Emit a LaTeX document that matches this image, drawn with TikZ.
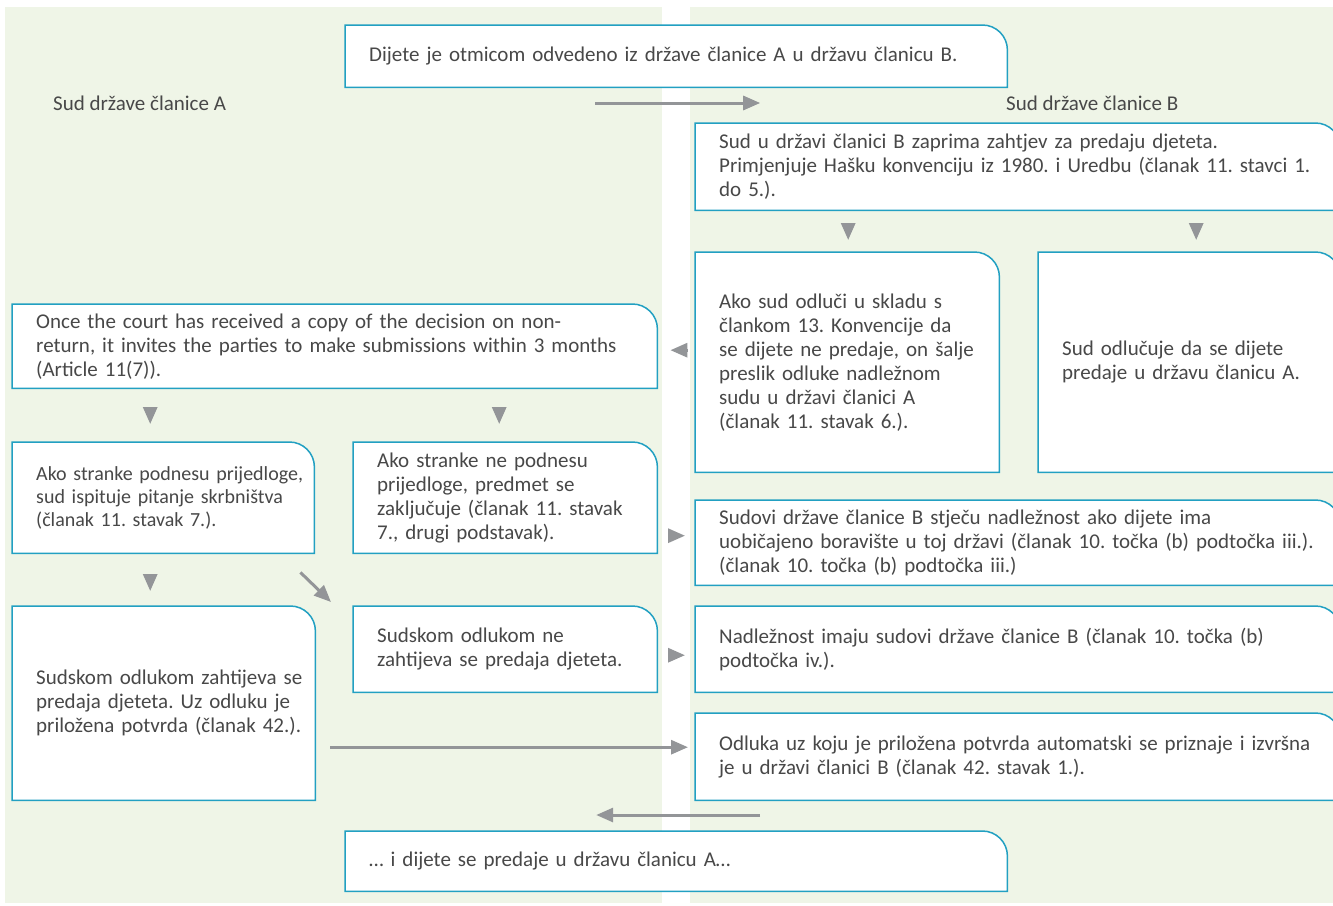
\documentclass[tikz,border=0pt]{standalone}
\usepackage{fontspec}
\setmainfont{Carlito}
\usetikzlibrary{arrows.meta,backgrounds}
\frenchspacing

\definecolor{panelgreen}{RGB}{239,245,231}
\definecolor{frameblue}{RGB}{34,160,194}
\definecolor{arrowgray}{RGB}{147,149,152}
\definecolor{textgray}{RGB}{72,72,72}

\newcommand\bodyfont{\fontsize{21}{24}\selectfont}
% frame round a text node: 24pt pad on the left, 2pt on the right
\newcommand\frameit[1]{%
  \draw[frame] ([xshift=-24pt]#1.south west) -- ([xshift=-24pt]#1.north west) -- ([xshift=-23pt]#1.north east)
    arc[start angle=90, end angle=0, radius=25pt] -- ([xshift=2pt]#1.south east) -- cycle;}

\tikzset{
  box/.style={anchor=north west, inner sep=0pt, align=left, text width=#1,
    font=\bodyfont, text=textgray},
  frame/.style={draw=frameblue, fill=white, line width=1.5pt},
  lab/.style={anchor=west, inner sep=0pt, font=\bodyfont, text=textgray},
  arr/.style={draw=arrowgray, line width=3pt, -{Triangle[length=17pt,width=14pt]}},
  tip/.style={draw=arrowgray, line width=3pt, -{Triangle[length=17pt,width=14pt]}}
}

\begin{document}
\begin{tikzpicture}[x=1pt, y=1pt]
    \useasboundingbox (0,0) rectangle (1333,-905);
    \begin{scope}[on background layer]
        \fill[panelgreen] (5,-7) rectangle (662,-903);
        \fill[panelgreen] (690,-7) rectangle (1333,-903);
    \end{scope}

    % top and bottom
    \node[box=636pt, minimum height=62pt] (Top) at (369,-25) {Dijete je otmicom odvedeno iz države članice A u državu članicu B.};
    \node[box=636pt, minimum height=60pt] (Bot) at (369,-831) {… i dijete se predaje u državu članicu A…};
    \node[lab] (labA) at (53,-103) {Sud države članice A};
    \node[lab] (labB) at (1006,-103) {Sud države članice B};

    % member state B
    \node[box=619pt, minimum height=87pt] (B1) at (719,-123) {Sud u državi članici B zaprima zahtjev za predaju djeteta.\\Primjenjuje Hašku konvenciju iz 1980. i Uredbu (članak 11. stavci 1.\\do 5.).};
    \node[box=278pt, minimum height=220pt] (B2) at (719,-252) {Ako sud odluči u skladu s\\člankom 13. Konvencije da\\se dijete ne predaje, on šalje\\preslik odluke nadležnom\\sudu u državi članici A\\(članak 11. stavak 6.).};
    \node[box=276pt, minimum height=220pt] (B3) at (1062,-252) {Sud odlučuje da se dijete\\predaje u državu članicu A.};
    \node[box=619pt, minimum height=85pt] (B4) at (719,-500) {Sudovi države članice B stječu nadležnost ako dijete ima\\uobičajeno boravište u toj državi (članak 10. točka (b) podtočka iii.).\\(članak 10. točka (b) podtočka iii.)};
    \node[box=619pt, minimum height=86pt] (B5) at (719,-606) {Nadležnost imaju sudovi države članice B (članak 10. točka (b)\\podtočka iv.).};
    \node[box=619pt, minimum height=87pt] (B6) at (719,-713) {Odluka uz koju je priložena potvrda automatski se priznaje i izvršna\\je u državi članici B (članak 42. stavak 1.).};

    % member state A
    \node[box=619pt, minimum height=84pt] (A1) at (36,-304) {Once the court has received a copy of the decision on non-\\return, it invites the parties to make submissions within 3 months\\(Article 11(7)).};
    \node[box=276pt, minimum height=111pt, font=\fontsize{20}{23}\selectfont] (A2) at (36,-442) {\mbox{Ako stranke podnesu prijedloge,}\\sud ispituje pitanje skrbništva\\(članak 11. stavak 7.).};
    \node[box=278pt, minimum height=111pt] (A3) at (377,-442) {Ako stranke ne podnesu\\prijedloge, predmet se\\zaključuje (članak 11. stavak\\7., drugi podstavak).};
    \node[box=277pt, minimum height=194pt] (A4) at (36,-606) {Sudskom odlukom zahtijeva se\\predaja djeteta. Uz odluku je\\priložena potvrda (članak 42.).};
    \node[box=278pt, minimum height=86pt] (A5) at (377,-606) {Sudskom odlukom ne\\zahtijeva se predaja djeteta.};

    \begin{scope}[on background layer]
        \foreach \n in {Top,Bot,B1,B2,B3,B4,B5,B6,A1,A2,A3,A4,A5}
            \frameit{\n};
    \end{scope}

    % connectors
    \draw[arr] ([xshift=-92pt]Top.south |- labA) -- ([xshift=73pt]Top.south |- labA);
    \draw[tip, shorten <=13pt, shorten >=12pt] ([xshift=-10pt]B1.south -| B2.north) -- ([xshift=-10pt]B2.north);
    \draw[tip, shorten <=13pt, shorten >=12pt] ([xshift=-4pt]B1.south -| B3.north) -- ([xshift=-4pt]B3.north);
    \draw[tip, shorten <=32pt, shorten >=15pt] ([yshift=-4pt]B2.west |- A1.east) -- ([yshift=-4pt]A1.east);
    \draw[tip, shorten <=19pt, shorten >=18pt] ([xshift=-24pt]A2.north |- A1.south) -- ([xshift=-24pt]A2.north);
    \draw[tip, shorten <=19pt, shorten >=18pt] ([xshift=-17pt]A3.north |- A1.south) -- ([xshift=-17pt]A3.north);
    \draw[tip, shorten <=21pt, shorten >=15pt] ([xshift=-24pt]A2.south) -- ([xshift=-24pt]A2.south |- A4.north);
    \draw[tip, shorten <=13pt, shorten >=34pt] ([yshift=-38pt]A3.east) -- ([yshift=-38pt]A3.east -| B4.west);
    \draw[tip, shorten <=13pt, shorten >=34pt] ([yshift=-6pt]A5.east) -- ([yshift=-6pt]A5.east -| B5.west);
    \draw[arr] ([xshift=-12pt,yshift=-19pt]A2.south east) -- ([xshift=-46pt,yshift=4pt]A5.north west);
    \draw[arr, shorten <=17pt, shorten >=31pt] ([yshift=-44pt]A4.east) -- ([yshift=-44pt]A4.east -| B6.west);
    \draw[arr] ([xshift=73pt,yshift=16pt]Bot.north) -- ([xshift=-91pt,yshift=16pt]Bot.north);
\end{tikzpicture}
\end{document}
